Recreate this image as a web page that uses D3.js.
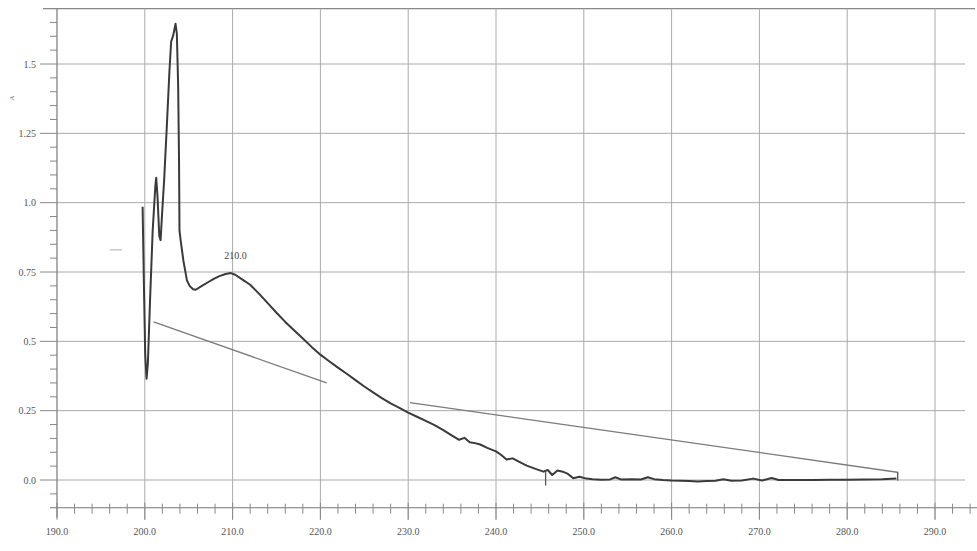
<!DOCTYPE html>
<html>
<head>
<meta charset="utf-8">
<script src="https://cdn.jsdelivr.net/npm/d3@7"></script>
<style>
  body { margin: 0; background: #fff; }
  svg { display: block; }
</style>
</head>
<body>
<script>
// UV spectrum (wavelength nm, absorbance)
const wavelength = [199.75, 199.9, 200.05, 200.2, 200.35, 200.6, 200.9, 201.2, 201.3, 201.45,
  201.65, 201.8, 201.95, 202.2, 202.5, 202.8, 203.0, 203.25, 203.5, 203.65,
  203.8, 203.9, 203.95, 204.1, 204.4, 204.8, 205.1, 205.5, 205.8, 206.5,
  207.2, 207.8, 208.5, 209.2, 209.8, 210.3, 211.0, 212.0, 213.0, 214.0,
  215.0, 216.0, 217.0, 218.0, 219.0, 220.0, 221.0, 222.0, 223.0, 224.0,
  225.0, 226.0, 227.0, 228.0, 229.0, 230.0, 231.0, 232.0, 233.0, 234.0,
  235.0, 235.8, 236.4, 237.0, 237.6, 238.2, 239.0, 240.0, 240.6, 241.2,
  241.9, 242.6, 243.5, 244.5, 245.4, 245.9, 246.4, 247.0, 247.6, 248.2,
  248.8, 249.5, 250.3, 251.0, 252.0, 253.0, 253.6, 254.2, 255.5, 256.5,
  257.3, 258.0, 259.0, 260.0, 261.0, 262.0, 263.0, 264.0, 265.0, 265.9,
  266.8, 268.0, 269.3, 270.3, 271.4, 272.2, 274.0, 276.0, 278.0, 280.0,
  282.0, 284.0, 285.6];
const absorbance = [0.985, 0.70, 0.45, 0.365, 0.42, 0.65, 0.90, 1.06, 1.09, 1.02,
  0.88, 0.865, 0.95, 1.08, 1.27, 1.47, 1.58, 1.605, 1.645, 1.61,
  1.42, 1.15, 0.90, 0.86, 0.79, 0.72, 0.70, 0.688, 0.686, 0.70,
  0.713, 0.724, 0.735, 0.743, 0.746, 0.74, 0.725, 0.704, 0.672, 0.638,
  0.603, 0.57, 0.54, 0.51, 0.48, 0.452, 0.428, 0.405, 0.383, 0.36,
  0.337, 0.316, 0.295, 0.276, 0.26, 0.243, 0.228, 0.213, 0.198, 0.18,
  0.16, 0.145, 0.152, 0.136, 0.133, 0.128, 0.116, 0.103, 0.09, 0.074,
  0.078, 0.066, 0.052, 0.04, 0.03, 0.036, 0.018, 0.034, 0.03, 0.022,
  0.006, 0.012, 0.005, 0.003, 0.001, 0.002, 0.01, 0.002, 0.003, 0.002,
  0.01, 0.003, 0.0, -0.002, -0.003, -0.004, -0.005, -0.004, -0.003, 0.003,
  -0.003, -0.002, 0.005, -0.002, 0.007, 0.0, 0.0, 0.0, 0.001, 0.001,
  0.002, 0.003, 0.005];

// baseline segments drawn by the instrument software
const baselines = [
  [[201.0, 0.57], [220.7, 0.35]],
  [[230.2, 0.279], [285.7, 0.028]]
];
// small vertical markers and a stray dash
const markers = [
  [[245.65, 0.03], [245.65, -0.02]],
  [[285.75, 0.03], [285.75, -0.002]]
];
const strayDash = [[196.0, 0.83], [197.4, 0.83]];

const peakLabels = [{ x: 210.0, y: 0.746, text: '210.0' }];

const xTicks = [190, 200, 210, 220, 230, 240, 250, 260, 270, 280, 290];
const yTicks = [0, 0.25, 0.5, 0.75, 1.0, 1.25, 1.5];
const yTickLabels = ['0.0', '0.25', '0.5', '0.75', '1.0', '1.25', '1.5'];

const width = 977;
const height = 551;

const x = d3.scaleLinear().domain([190, 290]).range([57, 935]);
const y = d3.scaleLinear().domain([0, 1.5]).range([480, 64]);

const svg = d3.select('body').append('svg')
  .attr('width', width)
  .attr('height', height)
  .attr('font-family', '"Liberation Serif", "DejaVu Serif", serif');

const yTop = y(1.7);
const yAxisPos = y(-0.1);

// horizontal grid
svg.append('g').selectAll('line')
  .data(yTicks)
  .enter().append('line')
  .attr('x1', x(190))
  .attr('x2', 965)
  .attr('y1', d => y(d))
  .attr('y2', d => y(d))
  .attr('stroke', '#aaa')
  .attr('stroke-width', 1);

// top border
svg.append('line')
  .attr('x1', 43).attr('x2', 975)
  .attr('y1', yTop).attr('y2', yTop)
  .attr('stroke', '#888')
  .attr('stroke-width', 1.3);

// vertical grid
svg.append('g').selectAll('line')
  .data(xTicks.slice(1))
  .enter().append('line')
  .attr('x1', d => x(d))
  .attr('x2', d => x(d))
  .attr('y1', yTop)
  .attr('y2', yAxisPos + 12)
  .attr('stroke', '#aaa')
  .attr('stroke-width', 1);

// y axis line + ticks
svg.append('line')
  .attr('x1', x(190)).attr('x2', x(190))
  .attr('y1', yTop).attr('y2', yAxisPos + 10)
  .attr('stroke', '#777')
  .attr('stroke-width', 1.2);

const yMinor = d3.range(-0.05, 1.71, 0.05).filter(v => Math.abs(v * 4 - Math.round(v * 4)) > 1e-6);
svg.append('g').selectAll('line')
  .data(yMinor)
  .enter().append('line')
  .attr('x1', x(190) - 7).attr('x2', x(190))
  .attr('y1', d => y(d)).attr('y2', d => y(d))
  .attr('stroke', '#888');

svg.append('g').selectAll('line')
  .data(yTicks)
  .enter().append('line')
  .attr('x1', x(190) - 17).attr('x2', x(190))
  .attr('y1', d => y(d)).attr('y2', d => y(d))
  .attr('stroke', '#888');

svg.append('g').selectAll('text')
  .data(yTicks)
  .enter().append('text')
  .attr('x', 36)
  .attr('y', d => y(d) + 3.5)
  .attr('text-anchor', 'end')
  .attr('fill', '#555')
  .style('font-size', '10px')
  .text((d, i) => yTickLabels[i]);

// y axis title (tiny, barely legible on the scan)
svg.append('text')
  .attr('transform', 'translate(14,98) rotate(-90)')
  .attr('text-anchor', 'middle')
  .attr('fill', '#777')
  .style('font-size', '7px')
  .text('A');

// x axis line + ticks
svg.append('line')
  .attr('x1', 50).attr('x2', 977)
  .attr('y1', yAxisPos).attr('y2', yAxisPos)
  .attr('stroke', '#777')
  .attr('stroke-width', 1.2);

const xMinor = d3.range(192, 296, 2).filter(v => v % 10 !== 0);
svg.append('g').selectAll('line')
  .data(xMinor)
  .enter().append('line')
  .attr('x1', d => x(d)).attr('x2', d => x(d))
  .attr('y1', yAxisPos - 4).attr('y2', yAxisPos + 6)
  .attr('stroke', '#888');

svg.append('g').selectAll('line')
  .data(xTicks)
  .enter().append('line')
  .attr('x1', d => x(d)).attr('x2', d => x(d))
  .attr('y1', yAxisPos - 5).attr('y2', yAxisPos + 12)
  .attr('stroke', '#888');

svg.append('g').selectAll('text')
  .data(xTicks)
  .enter().append('text')
  .attr('x', d => x(d))
  .attr('y', yAxisPos + 27)
  .attr('text-anchor', 'middle')
  .attr('fill', '#555')
  .style('font-size', '10px')
  .text(d => d.toFixed(1));

// baselines
const line = d3.line().x(d => x(d[0])).y(d => y(d[1]));

svg.append('g').selectAll('path')
  .data(baselines)
  .enter().append('path')
  .attr('d', line)
  .attr('fill', 'none')
  .attr('stroke', '#7a7a7a')
  .attr('stroke-width', 1.3);

svg.append('path')
  .attr('d', line(strayDash))
  .attr('fill', 'none')
  .attr('stroke', '#c8c8c8')
  .attr('stroke-width', 1.5);

// spectrum
const spectrum = wavelength.map((w, i) => [w, absorbance[i]]);
svg.append('path')
  .attr('d', line(spectrum))
  .attr('fill', 'none')
  .attr('stroke', '#3a3a3a')
  .attr('stroke-width', 2)
  .attr('stroke-linejoin', 'round');

svg.append('g').selectAll('path')
  .data(markers)
  .enter().append('path')
  .attr('d', line)
  .attr('fill', 'none')
  .attr('stroke', '#555')
  .attr('stroke-width', 1.3);

// peak annotation
svg.append('g').selectAll('text')
  .data(peakLabels)
  .enter().append('text')
  .attr('x', d => x(d.x) + 3)
  .attr('y', d => y(d.y) - 14)
  .attr('text-anchor', 'middle')
  .attr('fill', '#444')
  .style('font-size', '10px')
  .text(d => d.text);
</script>
</body>
</html>
